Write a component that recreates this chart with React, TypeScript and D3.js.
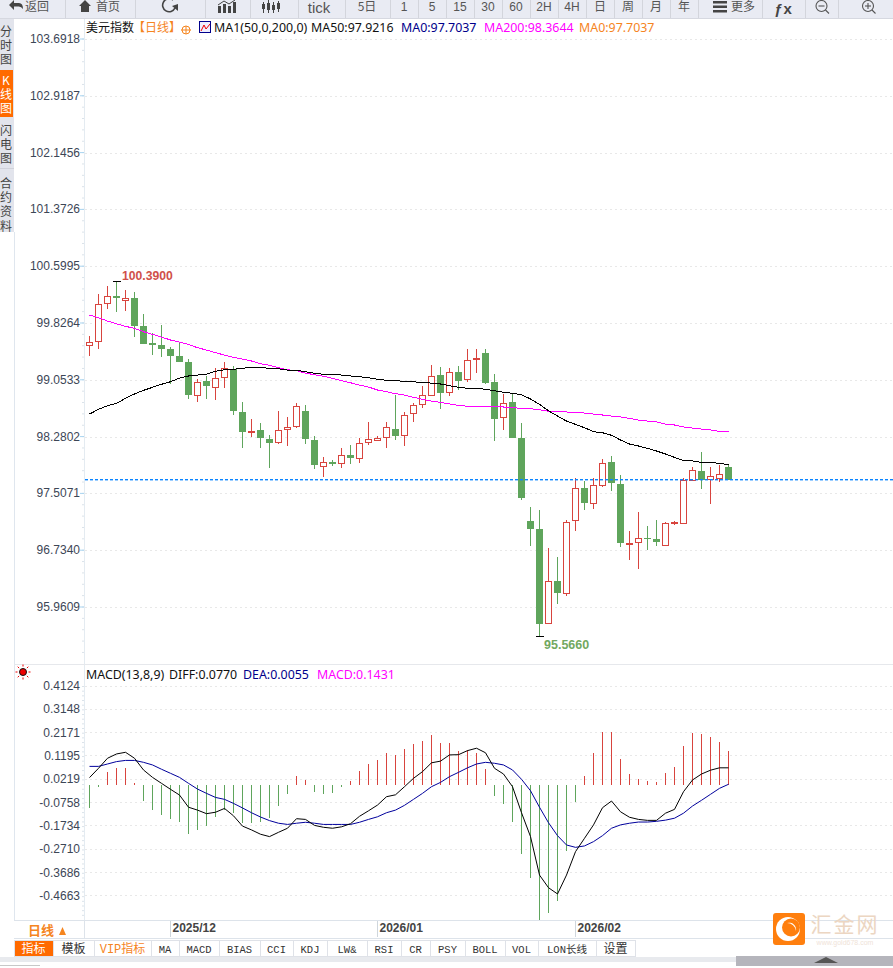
import React from "react";
import * as d3 from "d3";

const priceTicks = ["103.6918","102.9187","102.1456","101.3726","100.5995","99.8264","99.0533","98.2802","97.5071","96.7340","95.9609"];
const macdTicks = ["0.4124","0.3148","0.2171","0.1195","0.0219","-0.0758","-0.1734","-0.2710","-0.3686","-0.4663"];
const monthLabels = ["2025/12","2026/01","2026/02"];
const monthIndex = [9,32,54];

const opens = [99.517,99.577,100.094,100.193,100.129,100.166,99.785,99.554,99.527,99.472,99.377,99.291,98.842,99.033,98.951,99.087,99.204,98.611,98.338,98.366,98.247,98.202,98.374,98.415,98.624,98.230,97.870,97.934,97.916,98.029,97.979,98.202,98.238,98.270,98.383,98.298,98.597,98.719,98.842,99.118,98.877,99.159,99.060,99.326,99.418,99.023,98.537,98.751,98.261,97.131,97.022,95.733,96.310,96.142,97.141,97.576,97.372,97.617,97.930,97.635,96.822,96.841,96.900,96.882,96.800,97.094,97.114,97.685,97.812,97.699,97.712,97.866];
const closes = [99.563,100.081,100.189,100.170,100.162,99.789,99.544,99.531,99.476,99.381,99.299,98.837,99.019,98.959,99.073,99.209,98.632,98.333,98.352,98.251,98.197,98.366,98.406,98.692,98.238,97.884,97.930,97.907,98.025,97.993,98.189,98.243,98.261,98.406,98.292,98.570,98.706,98.842,99.101,98.877,99.155,99.041,99.318,99.346,99.013,98.523,98.733,98.265,97.448,97.026,95.733,96.310,96.142,97.114,97.576,97.367,97.617,97.916,97.639,96.836,96.828,96.896,96.890,96.836,97.100,97.114,97.693,97.821,97.689,97.740,97.767,97.685];
const highs = [99.649,100.221,100.334,100.390,100.275,100.248,99.948,99.686,99.799,99.503,99.554,99.332,99.064,99.105,99.209,99.295,99.241,98.751,98.519,98.465,98.302,98.628,98.547,98.737,98.710,98.288,98.002,97.961,98.125,98.166,98.257,98.479,98.288,98.479,98.846,98.615,98.737,98.969,99.254,99.227,99.214,99.241,99.472,99.472,99.472,99.132,98.860,98.860,98.465,97.322,97.281,96.764,96.641,97.145,97.716,97.676,97.716,97.975,98.016,97.757,96.995,97.254,97.063,97.145,97.118,97.131,97.712,97.866,98.070,97.866,97.893,97.893];
const lows = [99.381,99.476,100.012,99.980,99.993,99.640,99.544,99.395,99.367,98.999,99.299,98.788,98.755,98.796,98.782,98.945,98.578,98.129,98.279,98.129,97.857,98.175,98.156,98.401,98.183,97.843,97.734,97.880,97.853,97.907,97.921,98.166,98.234,98.125,98.234,98.152,98.479,98.669,98.832,98.656,98.832,98.914,99.023,99.145,98.996,98.220,98.370,98.265,97.417,96.791,95.566,95.729,96.006,96.115,96.995,97.285,97.295,97.594,97.539,96.777,96.600,96.478,96.736,96.791,96.791,97.077,97.108,97.680,97.567,97.363,97.662,97.685];

const ma50 = [98.587,98.651,98.700,98.733,98.801,98.860,98.910,98.951,98.992,99.027,99.077,99.105,99.118,99.128,99.169,99.190,99.196,99.209,99.227,99.223,99.209,99.204,99.186,99.182,99.163,99.141,99.128,99.128,99.118,99.105,99.095,99.082,99.060,99.046,99.041,99.033,99.027,99.013,99.009,98.996,98.973,98.951,98.937,98.937,98.924,98.905,98.883,98.869,98.850,98.792,98.719,98.632,98.560,98.492,98.447,98.401,98.347,98.333,98.298,98.234,98.179,98.152,98.121,98.084,98.043,97.998,97.952,97.948,97.930,97.930,97.916,97.897];
const ma200 = [99.935,99.898,99.853,99.816,99.781,99.754,99.708,99.672,99.635,99.595,99.567,99.536,99.490,99.458,99.422,99.390,99.359,99.336,99.309,99.272,99.250,99.218,99.190,99.177,99.145,99.122,99.101,99.073,99.041,99.013,98.982,98.955,98.914,98.891,98.864,98.846,98.815,98.788,98.764,98.747,98.724,98.706,98.692,98.692,98.692,98.687,98.683,98.673,98.665,98.660,98.646,98.624,98.621,98.615,98.608,98.601,98.587,98.574,98.560,98.547,98.529,98.506,98.492,98.479,98.451,98.438,98.411,98.397,98.383,98.370,98.352,98.352];

const macdBars = [-0.095,-0.007,0.054,0.071,0.071,0.008,-0.067,-0.105,-0.126,-0.142,-0.155,-0.205,-0.188,-0.172,-0.134,-0.105,-0.117,-0.159,-0.159,-0.155,-0.138,-0.088,-0.038,0.038,0.021,-0.029,-0.038,-0.033,-0.007,0.017,0.059,0.088,0.105,0.134,0.126,0.151,0.172,0.184,0.209,0.176,0.176,0.142,0.147,0.134,0.067,-0.046,-0.080,-0.155,-0.289,-0.389,-0.565,-0.536,-0.486,-0.276,-0.071,0.038,0.134,0.222,0.222,0.109,0.046,0.025,0.017,0.013,0.050,0.075,0.163,0.218,0.213,0.201,0.180,0.142];
const diff = [0.031,0.070,0.112,0.130,0.137,0.112,0.063,0.032,0.007,-0.018,-0.042,-0.093,-0.105,-0.120,-0.114,-0.098,-0.129,-0.172,-0.188,-0.206,-0.216,-0.198,-0.181,-0.141,-0.144,-0.169,-0.177,-0.181,-0.175,-0.162,-0.131,-0.108,-0.084,-0.049,-0.041,-0.007,0.028,0.056,0.093,0.100,0.126,0.127,0.144,0.154,0.135,0.070,0.046,-0.007,-0.116,-0.216,-0.377,-0.430,-0.456,-0.377,-0.279,-0.223,-0.167,-0.095,-0.067,-0.112,-0.135,-0.144,-0.148,-0.148,-0.118,-0.102,-0.028,0.021,0.046,0.062,0.072,0.072];
const dea = [0.078,0.078,0.088,0.098,0.103,0.103,0.095,0.084,0.066,0.049,0.032,0.007,-0.017,-0.035,-0.052,-0.060,-0.077,-0.096,-0.116,-0.134,-0.149,-0.160,-0.165,-0.160,-0.156,-0.160,-0.165,-0.165,-0.165,-0.165,-0.156,-0.144,-0.133,-0.116,-0.105,-0.085,-0.060,-0.035,-0.007,0.011,0.035,0.053,0.072,0.088,0.095,0.091,0.084,0.063,0.024,-0.024,-0.093,-0.158,-0.212,-0.251,-0.261,-0.255,-0.237,-0.212,-0.181,-0.167,-0.160,-0.155,-0.155,-0.152,-0.147,-0.139,-0.118,-0.088,-0.064,-0.039,-0.014,0.003];

const lastPrice = 97.7037;
const highLabel = "100.3900";
const lowLabel = "95.5660";

const toolbarText = [
  { t: "返回", x: 37, c: true }, { t: "首页", x: 108, c: true }, { t: "tick", x: 319, s: 15 }, { t: "5日", x: 367, c: true },
  { t: "1", x: 404 }, { t: "5", x: 432 }, { t: "15", x: 460 }, { t: "30", x: 488 }, { t: "60", x: 516 },
  { t: "2H", x: 544 }, { t: "4H", x: 572 }, { t: "日", x: 600, c: true }, { t: "周", x: 628, c: true }, { t: "月", x: 656, c: true },
  { t: "年", x: 684, c: true }, { t: "更多", x: 743, c: true },
];
const toolbarSeps = [65,135,205,250,298,345,390,418,446,474,502,530,558,586,614,642,670,698,762,805,838];
const sideTabs = [
  { text: "分时图", y: 25, on: false },
  { text: "K线图", y: 74, on: true },
  { text: "闪电图", y: 124, on: false },
  { text: "合约资料", y: 177, on: false },
];
const bottomTabs = [
  { t: "指标", x0: 14, x1: 53 }, { t: "模板", x0: 53, x1: 94 }, { t: "VIP指标", x0: 94, x1: 151 },
  { t: "MA", x0: 151, x1: 179 }, { t: "MACD", x0: 179, x1: 219 }, { t: "BIAS", x0: 219, x1: 260 },
  { t: "CCI", x0: 260, x1: 293 }, { t: "KDJ", x0: 293, x1: 327 }, { t: "LW&", x0: 327, x1: 367 },
  { t: "RSI", x0: 367, x1: 401 }, { t: "CR", x0: 401, x1: 430 }, { t: "PSY", x0: 430, x1: 465 },
  { t: "BOLL", x0: 465, x1: 505 }, { t: "VOL", x0: 505, x1: 538 }, { t: "LON长线", x0: 538, x1: 596 },
  { t: "设置", x0: 596, x1: 635 },
];

const RED = "#d8443e";
const GREEN = "#5fa55c";
const SANS = "'Noto Sans','Noto Sans CJK SC',sans-serif";
const CJK = "'Noto Sans CJK SC',sans-serif";
const ARIAL = "'Liberation Sans',sans-serif";
const MONO = "'Liberation Mono','Noto Sans CJK SC',monospace";
const LEGEND = 12.4;

export default function App() {
  const x = d3.scaleLinear().domain([0, 71]).range([89.5, 728.5]);
  const y = d3.scaleLinear().domain([+priceTicks[0], +priceTicks[10]]).range([39, 607]);
  const yM = d3.scaleLinear().domain([+macdTicks[0], +macdTicks[9]]).range([686.5, 896.4]);
  const line = (sc: any) => d3.line<number>().x((_, i) => x(i)).y((d) => sc(d));
  const idx = d3.range(72);
  const minor = d3.range(39, 660, 11.36);
  const minorM = d3.range(686.5, 916, 4.67);
  const lastY = Math.round(y(lastPrice));

  return (
    <svg width={893} height={968} viewBox="0 0 893 968" style={{ position: "fixed", left: 0, top: 0, background: "#fff" }}>
      {/* toolbar */}
      <rect x={0} y={0} width={893} height={18} fill="#e9ebf3" />
      <line x1={0} x2={893} y1={18.5} y2={18.5} stroke="#d6d8e0" />
      {toolbarSeps.map((s) => <line key={s} x1={s + 0.5} x2={s + 0.5} y1={0} y2={18} stroke="#d3d5dc" />)}
      {toolbarText.map((d) => (
        <text key={d.t} x={d.x} y={d.s ? 13 : 11} textAnchor="middle" fontFamily={d.c ? CJK : ARIAL} fontSize={d.s ?? 12} fill="#555">{d.t}</text>
      ))}
      <path d="M9 5 L14 0 V3 H19 Q23 3 23 9 Q21 6 18 6.5 H14 V10 Z" fill="#444" />
      <path d="M79 6 L85 0 L91 6 H89 V12 H81 V6 Z" fill="#444" />
      <path d="M173 0 A6.5 6.5 0 1 0 175 8" fill="none" stroke="#444" strokeWidth={1.6} />
      <path d="M172 6 L178 4 L178 11 Z" fill="#444" />
      <g fill="#444"><rect x={218} y={6} width={3} height={7} /><rect x={223} y={4} width={3} height={9} /><rect x={228} y={6} width={3} height={7} /><rect x={233} y={2} width={3} height={11} /></g>
      <path d="M218 5 L224 1 L229 4 L235 0" fill="none" stroke="#444" />
      <g fill="#444"><rect x={263} y={2} width={1} height={11} /><rect x={262} y={4} width={3} height={5} /><rect x={268} y={0} width={1} height={13} /><rect x={267} y={3} width={3} height={7} /><rect x={273} y={2} width={1} height={11} /><rect x={272} y={5} width={3} height={5} /><rect x={278} y={1} width={1} height={11} /><rect x={277} y={3} width={3} height={6} /></g>
      <g fill="#444"><rect x={713} y={1} width={14} height={2.5} /><rect x={713} y={5.5} width={14} height={2.5} /><rect x={713} y={10} width={14} height={2.5} /></g>
      <text x={783.5} y={13.5} textAnchor="middle" fontFamily={ARIAL} fontWeight={700} fontSize={15} letterSpacing={1} fill="#444">ƒx</text>
      <g fill="none" stroke="#555" strokeWidth={1.1}>
        <circle cx={821.5} cy={6} r={5.5} /><line x1={825.5} y1={10} x2={829} y2={13.5} /><line x1={818.5} y1={6} x2={824.5} y2={6} />
        <circle cx={868} cy={6} r={5.5} /><line x1={872} y1={10} x2={875.5} y2={13.5} /><line x1={865} y1={6} x2={871} y2={6} /><line x1={868} y1={3} x2={868} y2={9} />
      </g>

      {/* side tabs */}
      <rect x={0} y={19} width={14} height={213} fill="#e2e4ec" />
      <line x1={14.5} x2={14.5} y1={232} y2={938} stroke="#dfe6ee" />
      <rect x={0} y={70} width={13} height={47} fill="#ff6a00" />
      <line x1={0} x2={14} y1={168.5} y2={168.5} stroke="#d0d2da" />
      {sideTabs.map((tab) => (
        <text key={tab.text} x={6} y={tab.y} fontFamily={CJK} fontSize={12} letterSpacing={2.4}
          style={{ writingMode: "vertical-rl", textOrientation: "upright" } as any}
          fill={tab.on ? "#fff" : "#444"}>{tab.text}</text>
      ))}

      {/* frames */}
      <line x1={84.5} x2={84.5} y1={19} y2={938} stroke="#e4ebf1" />
      <line x1={14} x2={893} y1={664.5} y2={664.5} stroke="#e6e8ec" />
      <line x1={14} x2={893} y1={938.5} y2={938.5} stroke="#dde3ea" />

      {/* grid */}
      {priceTicks.map((t) => <line key={t} x1={85} x2={893} y1={Math.round(y(+t)) + 0.5} y2={Math.round(y(+t)) + 0.5} stroke="#e8e8e8" strokeDasharray="2 3" />)}
      {macdTicks.map((t) => <line key={t} x1={85} x2={893} y1={Math.round(yM(+t)) - 0.5} y2={Math.round(yM(+t)) - 0.5} stroke="#e8e8e8" strokeDasharray="2 3" />)}
      {minor.map((m) => <line key={m} x1={82} x2={84} y1={m} y2={m} stroke="#dbe3ea" />)}
      {minorM.map((m) => <line key={m} x1={82} x2={84} y1={m} y2={m} stroke="#dbe3ea" />)}
      {priceTicks.map((t) => <line key={t} x1={80} x2={84} y1={y(+t)} y2={y(+t)} stroke="#a9d4f0" />)}

      {/* axis labels */}
      {priceTicks.map((t) => <text key={t} x={80} y={y(+t) + 4} textAnchor="end" fontFamily={ARIAL} fontSize={12} fill="#3c4656">{t}</text>)}
      {macdTicks.map((t) => <text key={t} x={80} y={yM(+t) + 3.5} textAnchor="end" fontFamily={ARIAL} fontSize={12} fill="#3c4656">{t}</text>)}

      {/* candles */}
      {idx.map((i) => {
        const up = closes[i] >= opens[i];
        const c = up ? RED : GREEN;
        const top = y(Math.max(opens[i], closes[i]));
        const bot = y(Math.min(opens[i], closes[i]));
        const cx = x(i);
        return (
          <g key={i} shapeRendering="crispEdges">
            <line x1={cx} x2={cx} y1={y(highs[i])} y2={y(lows[i])} stroke={c} />
            {up
              ? <rect x={cx - 3} y={Math.round(top) + 0.5} width={6} height={Math.max(1, Math.round(bot - top))} fill="#fff" stroke={c} />
              : <rect x={cx - 3.5} y={Math.round(top)} width={7} height={Math.max(1, Math.round(bot - top))} fill={c} />}
          </g>
        );
      })}

      {/* MA lines */}
      <path d={line(y)(ma200) ?? ""} fill="none" stroke="#ff00ff" strokeWidth={1} shapeRendering="crispEdges" />
      <path d={line(y)(ma50) ?? ""} fill="none" stroke="#000" strokeWidth={1} shapeRendering="crispEdges" />
      <g fill="#0a84ff">
        {d3.range(85, 893, 5).map((d) => <rect key={d} x={d} y={lastY} width={3} height={1.4} />)}
      </g>

      {/* extremes */}
      <g stroke="#000" shapeRendering="crispEdges">
        <line x1={x(3) - 4} x2={x(3) + 4} y1={y(+highLabel)} y2={y(+highLabel)} />
        <line x1={x(50) - 4} x2={x(50) + 4} y1={y(+lowLabel)} y2={y(+lowLabel)} />
      </g>
      <text x={122} y={280} fontFamily={ARIAL} fontWeight={700} fontSize={12.2} fill="#d0504a">{highLabel}</text>
      <text x={544} y={649} fontFamily={ARIAL} fontWeight={700} fontSize={12.5} fill="#72a85f">{lowLabel}</text>

      {/* legend */}
      <text x={86} y={32} fontFamily={CJK} fontSize={12} fill="#111">美元指数</text>
      <text x={133} y={32} fontFamily={CJK} fontSize={12} fill="#f5851f">【日线】</text>
      <g fill="none" stroke="#f5851f"><circle cx={186} cy={30} r={4} /><line x1={181} x2={191} y1={30} y2={30} /><line x1={186} x2={186} y1={26} y2={34} /></g>
      <rect x={199.5} y={21.5} width={11} height={11} fill="#eef" stroke="#00008b" />
      <path d="M201 31 L204 25 L206 29 L210 24" fill="none" stroke="#e00" />
      <text x={214} y={32} fontFamily={SANS} fontSize={LEGEND} fill="#111">MA1(50,0,200,0)</text>
      <text x={311} y={32} fontFamily={SANS} fontSize={LEGEND} fill="#111">MA50:97.9216</text>
      <text x={401} y={32} fontFamily={SANS} fontSize={LEGEND} fill="#00008b">MA0:97.7037</text>
      <text x={484} y={32} fontFamily={SANS} fontSize={LEGEND} fill="#ff00ff">MA200:98.3644</text>
      <text x={579} y={32} fontFamily={SANS} fontSize={LEGEND} fill="#f5851f">MA0:97.7037</text>

      {/* MACD */}
      {idx.map((i) => (
        <line key={i} x1={x(i)} x2={x(i)} y1={yM(0)} y2={yM(macdBars[i])} stroke={macdBars[i] >= 0 ? RED : GREEN} shapeRendering="crispEdges" />
      ))}
      <path d={line(yM)(dea) ?? ""} fill="none" stroke="#00009c" strokeWidth={1} />
      <path d={line(yM)(diff) ?? ""} fill="none" stroke="#000" strokeWidth={1} />
      <circle cx={23} cy={672} r={3.5} fill="#e00" stroke="#111" />
      <g stroke="#e00">
        {d3.range(8).map((k) => {
          const a = (k * Math.PI) / 4;
          return <line key={k} x1={23 + 5.5 * Math.cos(a)} y1={672 + 5.5 * Math.sin(a)} x2={23 + 7.5 * Math.cos(a)} y2={672 + 7.5 * Math.sin(a)} />;
        })}
      </g>
      <text x={86} y={679} fontFamily={SANS} fontSize={LEGEND} fill="#111">MACD(13,8,9)</text>
      <text x={169} y={679} fontFamily={SANS} fontSize={LEGEND} fill="#111">DIFF:0.0770</text>
      <text x={243} y={679} fontFamily={SANS} fontSize={LEGEND} fill="#00008b">DEA:0.0055</text>
      <text x={317} y={679} fontFamily={SANS} fontSize={LEGEND} fill="#ff00ff">MACD:0.1431</text>

      {/* date axis */}
      <rect x={14} y={921} width={879} height={17} fill="#fff" />
      <line x1={14} x2={893} y1={920.5} y2={920.5} stroke="#dde3ea" />
      {monthLabels.map((m, k) => (
        <g key={m}>
          <line x1={x(monthIndex[k])} x2={x(monthIndex[k])} y1={921} y2={937} stroke="#cfd6dc" />
          <text x={x(monthIndex[k]) + 2} y={932} fontFamily={ARIAL} fontWeight={700} fontSize={12} fill="#444">{m}</text>
        </g>
      ))}
      <text x={28} y={935} fontFamily={CJK} fontSize={13} fill="#f5851f" fontWeight={700}>日线</text>
      <path d="M59 935 L62.5 927 L66 935 Z" fill="#f5851f" />
      <line x1={84.5} x2={84.5} y1={921} y2={938} stroke="#dde3ea" />

      {/* bottom tabs */}
      {bottomTabs.map((b, k) => (
        <g key={b.t}>
          <rect x={b.x0 + 0.5} y={940.5} width={b.x1 - b.x0} height={16} fill={k === 0 ? "#ff6a00" : "#fff"} stroke="#dfe2e8" />
          <text x={(b.x0 + b.x1) / 2} y={953} textAnchor="middle" fontFamily={MONO} fontSize={k < 3 || b.t === "设置" ? 12 : 10.5} fill={k === 0 ? "#fff" : k === 2 ? "#f5851f" : "#333"}>{b.t}</text>
        </g>
      ))}

      {/* footer */}
      <rect x={0} y={957} width={893} height={5} fill="#e8eaee" />
      <rect x={736} y={956} width={157} height={10} fill="#b5b5bc" />
      <path d="M814 963 L826 957 L838 963 Z" fill="#555" />
      <line x1={0} x2={40} y1={965.5} y2={965.5} stroke="#c8c8c8" />

      {/* logo */}
      <rect x={773} y={913} width={32} height={32} rx={3} fill="#ff7f0e" />
      <circle cx={788} cy={929} r={12} fill="#fff" />
      <circle cx={791} cy={927.5} r={9} fill="#ff7f0e" />
      <path d="M787 923 A7 7 0 0 1 796 931 A9 9 0 0 0 787 923 Z" fill="#fff" />
      <text x={845} y={932} textAnchor="middle" fontFamily={CJK} fontSize={21} fill="#ecd6c2" letterSpacing={2}>汇金网</text>
      <text x={845} y={945} textAnchor="middle" fontFamily={ARIAL} fontSize={7} fill="#efe3d8">www.gold678.com</text>
    </svg>
  );
}
